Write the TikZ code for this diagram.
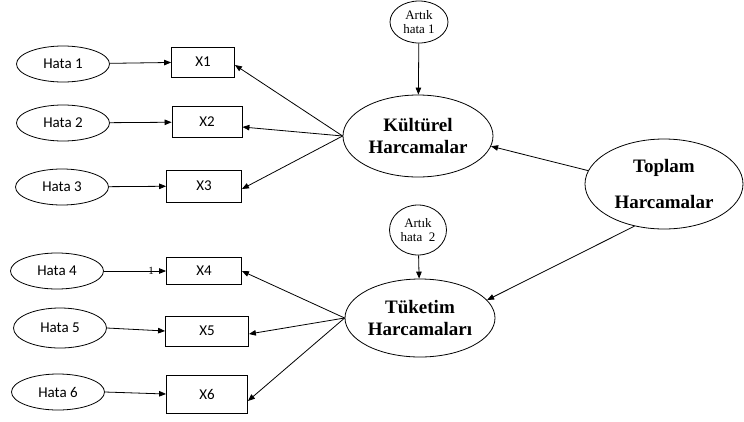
\documentclass[tikz,border=0pt]{standalone}
\usepackage{fontspec}
\setmainfont{Liberation Serif}
\newfontfamily\calib{Carlito}
\usetikzlibrary{arrows.meta, shapes.geometric}
\tikzset{hata/.style={ellipse, draw=black, line width=0.8pt, inner sep=0pt, minimum width=93pt, minimum height=36pt, font=\calib\fontsize{15}{17}\selectfont},
  gozlenen/.style={rectangle, draw=black, line width=0.8pt, inner sep=0pt, minimum height=30pt, font=\calib\fontsize{15}{17}\selectfont},
  gizil/.style={ellipse, draw=black, line width=0.8pt, inner sep=0pt, align=center, font=\bfseries\fontsize{19}{22}\selectfont},
  artik/.style={ellipse, draw=black, line width=0.8pt, inner sep=0pt, align=center, font=\fontsize{13}{14}\selectfont},
  ok/.style={-{Triangle[length=7pt,width=5.5pt]}, line width=0.8pt}}

\begin{document}
\begin{tikzpicture}[x=1pt,y=-1pt]
  \useasboundingbox (0,0) rectangle (744,421);

  % hata terimleri
  \node[hata] (h1) at (63,64) {Hata 1};
  \node[hata] (h2) at (63,123) {Hata 2};
  \node[hata] (h3) at (62,187) {Hata 3};
  \node[hata] (h4) at (57,271) {Hata 4};
  \node[hata, minimum height=40pt] (h5) at (60,328) {Hata 5};
  \node[hata, minimum height=36pt] (h6) at (58,392) {Hata 6};

  % gozlenen degiskenler
  \node[gozlenen, minimum width=63pt] (x1) at (203,62) {X1};
  \node[gozlenen, minimum width=70pt, minimum height=31pt] (x2) at (207,122) {X2};
  \node[gozlenen, minimum width=75pt, minimum height=32pt] (x3) at (204,186) {X3};
  \node[gozlenen, minimum width=75pt, minimum height=27pt] (x4) at (204,271) {X4};
  \node[gozlenen, minimum width=83pt] (x5) at (207,331) {X5};
  \node[gozlenen, minimum width=81pt, minimum height=38pt] (x6) at (207,394) {X6};

  % gizil degiskenler
  \node[gizil, minimum width=150pt, minimum height=82pt] (kul) at (418,136) {K\"ult\"urel\\Harcamalar};
  \node[gizil, minimum width=150pt, minimum height=78pt] (tuk) at (420,318) {T\"uketim\\Harcamalar\i};
  \node[gizil, minimum width=158pt, minimum height=90pt] (top) at (664,184) {Toplam\\[14pt]Harcamalar};

  \node[artik, minimum width=58pt, minimum height=42pt] (a1) at (419,22) {Art\i k\\hata 1};
  \node[artik, minimum width=57pt, minimum height=50pt] (a2) at (418,230) {Art\i k\\hata\ \ 2};

  \draw[ok] (h1) -- (x1);
  \draw[ok] (h2) -- (x2);
  \draw[ok] (h3) -- (x3);
  \draw[ok] (h4) -- (x4);
  \node[font=\fontsize{11}{11}\selectfont, inner sep=0pt] (iz) at (151,271) {1};
  \draw[ok] (h5.east) -- (x5.west);
  \draw[ok] (h6.east) -- (x6.west);

  \draw[ok] (kul.west) -- ([yshift=-3pt]x1.east);
  \draw[ok] (kul.west) -- ([yshift=-5pt]x2.east);
  \draw[ok] (kul.west) -- ([yshift=-3pt]x3.east);
  \draw[ok] (tuk.west) -- (x4.east);
  \draw[ok] (tuk.west) -- ([yshift=-3pt]x5.east);
  \draw[ok] (tuk.west) -- ([yshift=-7pt]x6.east);

  \draw[ok] (a1) -- (kul);
  \draw[ok] (a2) -- (tuk);
  \draw[ok] (top.170) -- (kul.-8);
  \draw[ok] (top.235) -- (tuk.15);
\end{tikzpicture}
\end{document}
